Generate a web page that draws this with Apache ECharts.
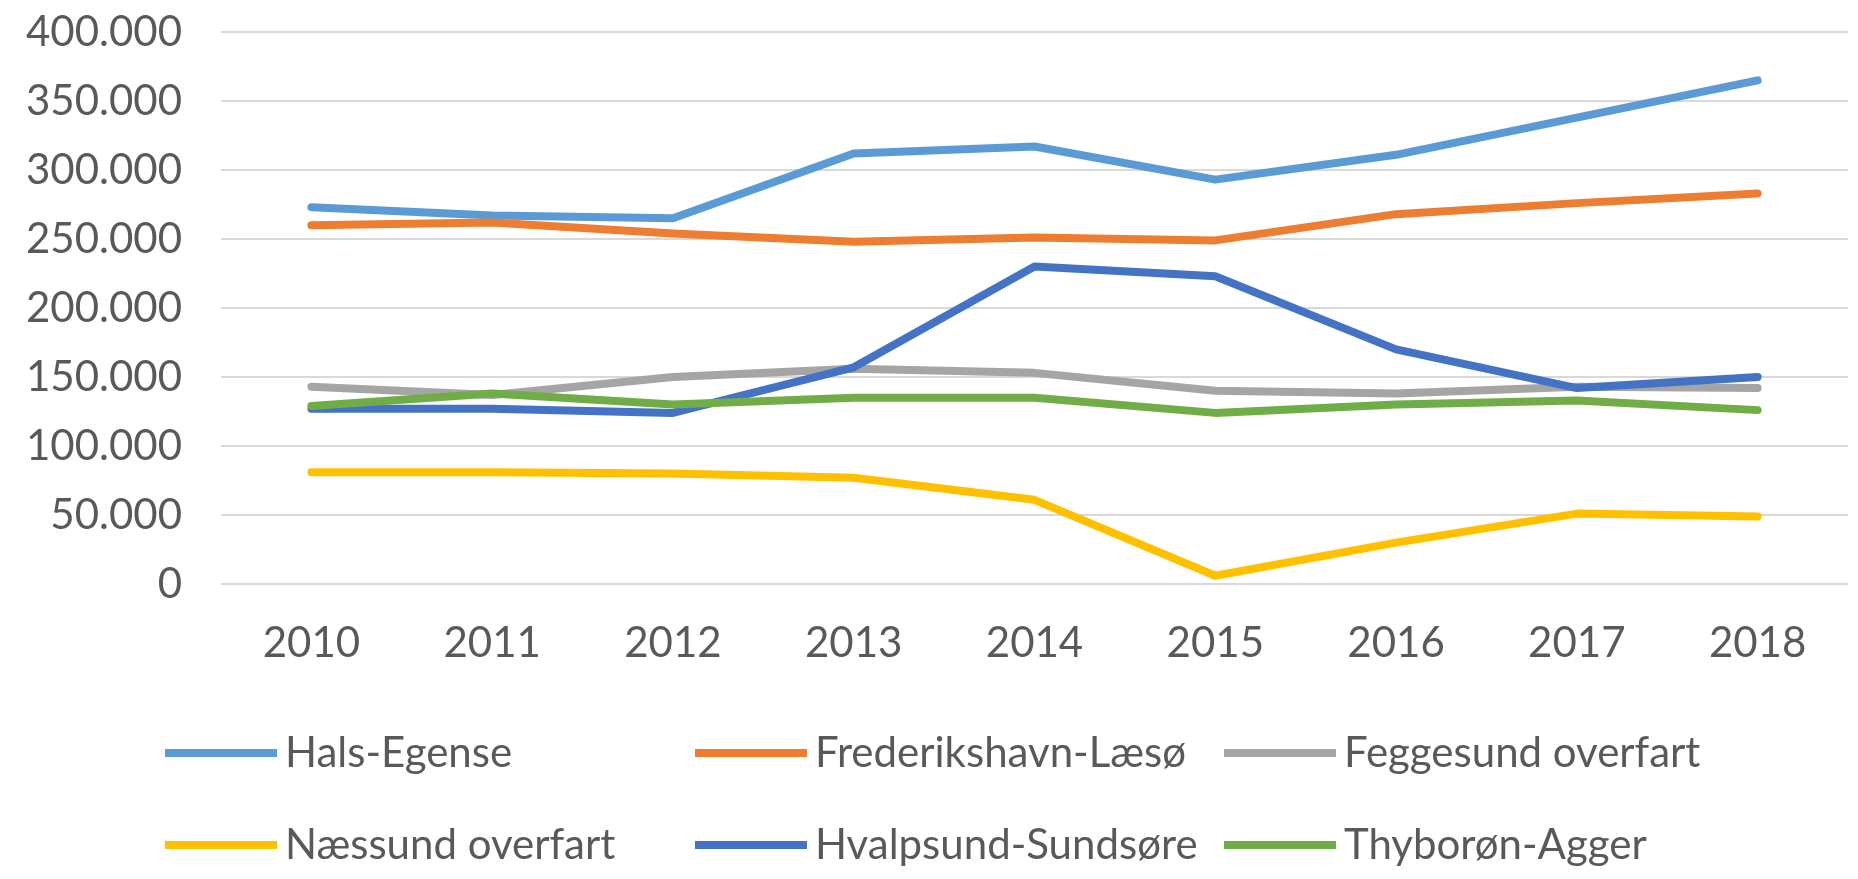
<!DOCTYPE html>
<html>
<head>
<meta charset="utf-8">
<script src="https://cdn.jsdelivr.net/npm/echarts@6/dist/echarts.min.js"></script>
<style>
  html, body { margin: 0; padding: 0; background: #ffffff; }
  #chart { width: 1858px; height: 879px; }
</style>
</head>
<body>
<div id="chart"></div>
<script>
const categories = ['2010', '2011', '2012', '2013', '2014', '2015', '2016', '2017', '2018'];
const halsEgense = [273000, 267000, 265000, 312000, 317000, 293000, 311000, 338000, 365000];
const frederikshavnLaeso = [260000, 262000, 254000, 248000, 251000, 249000, 268000, 276000, 283000];
const feggesund = [143000, 137000, 150000, 156000, 153000, 140000, 138000, 143000, 142000];
const naessund = [81000, 81000, 80000, 77000, 61000, 6000, 30000, 51000, 49000];
const hvalpsund = [127000, 127000, 124000, 157000, 230000, 223000, 170000, 142000, 150000];
const thyboron = [129000, 138000, 130000, 135000, 135000, 124000, 130000, 133000, 126000];
const seriesNames = ['Hals-Egense', 'Frederikshavn-Læsø', 'Feggesund overfart', 'Næssund overfart', 'Hvalpsund-Sundsøre', 'Thyborøn-Agger'];
const seriesValues = [halsEgense, frederikshavnLaeso, feggesund, naessund, hvalpsund, thyboron];
const seriesColors = ['#5B9BD5', '#ED7D31', '#A5A5A5', '#FFC000', '#4472C4', '#70AD47'];

const FONT = 'Lato';
const TEXT = '#595959';

const legendCols = [165, 695, 1224];
const legendRows = [732, 824];

const chart = echarts.init(document.getElementById('chart'), null, { renderer: 'canvas' });

const legends = seriesNames.map((name, i) => ({
  data: [name],
  left: legendCols[i % 3],
  top: legendRows[Math.floor(i / 3)],
  icon: 'rect',
  itemWidth: 112,
  itemHeight: 8,
  padding: 0,
  selectedMode: false,
  textStyle: { fontFamily: FONT, fontSize: 42, color: TEXT, lineHeight: 42, padding: [0, 0, 0, 3] }
}));

const option = {
  backgroundColor: '#ffffff',
  animation: false,
  legend: legends,
  grid: { left: 221, right: 10, top: 32, bottom: 295 },
  xAxis: {
    type: 'category',
    data: categories,
    boundaryGap: true,
    axisLine: { show: false },
    axisTick: { show: false },
    axisLabel: { fontFamily: FONT, fontSize: 42, color: TEXT, margin: 38 }
  },
  yAxis: {
    type: 'value',
    min: 0,
    max: 400000,
    interval: 50000,
    axisLine: { show: false },
    axisTick: { show: false },
    splitLine: { lineStyle: { color: '#D9D9D9', width: 2 } },
    axisLabel: {
      fontFamily: FONT, fontSize: 42, color: TEXT, margin: 39,
      formatter: v => String(v).replace(/\B(?=(\d{3})+(?!\d))/g, '.')
    }
  },
  series: seriesNames.map((name, i) => ({
    name: name,
    type: 'line',
    data: seriesValues[i],
    showSymbol: false,
    symbol: 'none',
    color: seriesColors[i],
    lineStyle: { width: 8, color: seriesColors[i], cap: 'round', join: 'round' }
  }))
};

chart.setOption(option);
</script>
</body>
</html>
